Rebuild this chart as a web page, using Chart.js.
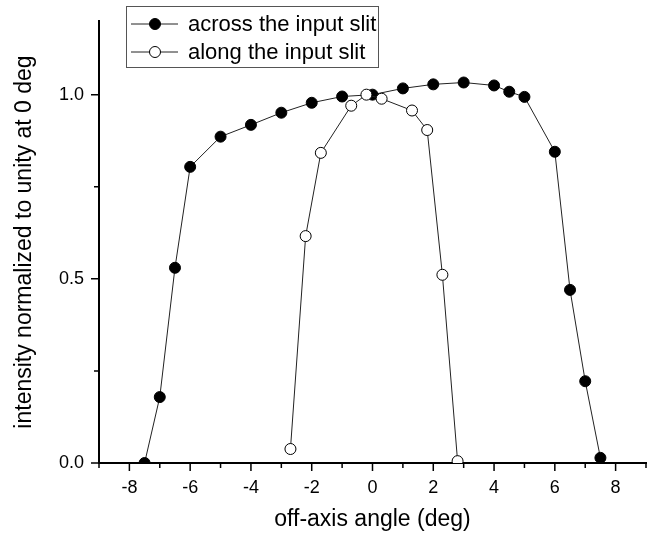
<!DOCTYPE html>
<html>
<head>
<meta charset="utf-8">
<script src="https://cdn.jsdelivr.net/npm/chart.js@4.4.1/dist/chart.umd.min.js"></script>
<style>
  html, body { margin: 0; padding: 0; background: #fff; }
  canvas { display: block; }
</style>
</head>
<body>
<canvas id="c" width="659" height="536"></canvas>
<script>
// Off-axis response, normalized to 1 at 0 deg
const acrossAngle = [-7.5, -7, -6.5, -6, -5, -4, -3, -2, -1, 0, 1, 2, 3, 4, 4.5, 5, 6, 6.5, 7, 7.5];
const acrossIntensity = [0.0, 0.179, 0.53, 0.804, 0.886, 0.918, 0.951, 0.978, 0.995, 1.0, 1.017, 1.028, 1.033, 1.025, 1.008, 0.994, 0.845, 0.47, 0.222, 0.014];
const alongAngle = [-2.7, -2.2, -1.7, -0.7, -0.2, 0.3, 1.3, 1.8, 2.3, 2.8];
const alongIntensity = [0.038, 0.616, 0.842, 0.970, 1.0, 0.989, 0.957, 0.904, 0.511, 0.005];

const xTickValues = [-8, -6, -4, -2, 0, 2, 4, 6, 8];
const yTickValues = [0.0, 0.5, 1.0];
const seriesNames = ['across the input slit', 'along the input slit'];
const xTitle = 'off-axis angle (deg)';
const yTitle = 'intensity normalized to unity at 0 deg';

const FONT = '"Liberation Sans", Arial, sans-serif';

function toPoints(xs, ys) {
  return xs.map((v, i) => ({ x: v, y: ys[i] }));
}

// Outward major/minor tick marks on the left and bottom axes, plus the boxed legend
const axisDecor = {
  id: 'axisDecor',
  afterDraw(chart) {
    const { ctx, chartArea: a } = chart;
    const xs = chart.scales.x, ys = chart.scales.y;
    ctx.save();
    ctx.strokeStyle = '#000';
    ctx.lineWidth = 1.5;
    ctx.beginPath();
    for (let v = xs.min; v <= xs.max; v += 1) {
      const px = xs.getPixelForValue(v);
      const len = (Math.abs(v) % 2 === 0) ? 8 : 5;
      ctx.moveTo(px, a.bottom);
      ctx.lineTo(px, a.bottom + len);
    }
    for (let v = 0; v <= ys.max + 1e-9; v += 0.25) {
      const py = ys.getPixelForValue(v);
      const major = Math.abs(v * 2 - Math.round(v * 2)) < 1e-9;
      ctx.moveTo(a.left, py);
      ctx.lineTo(a.left - (major ? 8 : 5), py);
    }
    ctx.stroke();

    // legend
    const bx = 126.5, by = 6.5, bw = 252, bh = 61;
    ctx.lineWidth = 1;
    ctx.strokeStyle = '#555';
    ctx.strokeRect(bx, by, bw, bh);
    const rows = [24, 52];
    chart.data.datasets.forEach((ds, i) => {
      const ry = rows[i];
      ctx.strokeStyle = ds.borderColor;
      ctx.lineWidth = 1;
      ctx.beginPath();
      ctx.moveTo(131, ry);
      ctx.lineTo(178, ry);
      ctx.stroke();
      ctx.beginPath();
      ctx.arc(155, ry, ds.pointRadius, 0, Math.PI * 2);
      ctx.fillStyle = ds.pointBackgroundColor;
      ctx.fill();
      ctx.strokeStyle = ds.pointBorderColor;
      ctx.lineWidth = ds.pointBorderWidth;
      ctx.stroke();
      ctx.fillStyle = '#000';
      ctx.font = '22px ' + FONT;
      ctx.textBaseline = 'middle';
      ctx.textAlign = 'left';
      ctx.fillText(seriesNames[i], 188, ry + 1);
    });
    ctx.restore();
  }
};

new Chart(document.getElementById('c'), {
  type: 'scatter',
  data: {
    datasets: [
      {
        label: seriesNames[0],
        data: toPoints(acrossAngle, acrossIntensity),
        showLine: true,
        borderColor: '#222',
        borderWidth: 1,
        pointRadius: 5.5,
        pointBackgroundColor: '#000',
        pointBorderColor: '#000',
        pointBorderWidth: 1,
        clip: 0,
        order: 2
      },
      {
        label: seriesNames[1],
        data: toPoints(alongAngle, alongIntensity),
        showLine: true,
        borderColor: '#222',
        borderWidth: 1,
        pointRadius: 5.5,
        pointBackgroundColor: '#fff',
        pointBorderColor: '#000',
        pointBorderWidth: 1,
        clip: 0,
        order: 1
      }
    ]
  },
  options: {
    responsive: false,
    devicePixelRatio: 1,
    animation: false,
    events: [],
    layout: { padding: { top: 21, right: 13, left: 0, bottom: 0 } },
    plugins: { legend: { display: false }, tooltip: { enabled: false } },
    scales: {
      x: {
        type: 'linear',
        min: -9,
        max: 9,
        afterBuildTicks: s => { s.ticks = xTickValues.map(v => ({ value: v })); },
        afterFit: s => { s.height = 73; },
        grid: { display: false, drawTicks: true, tickLength: 8 },
        border: { display: true, color: '#000', width: 2 },
        ticks: {
          color: '#000',
          padding: 6,
          maxRotation: 0,
          font: { family: FONT, size: 18 },
          callback: v => String(v)
        },
        title: {
          display: true,
          text: xTitle,
          color: '#000',
          font: { family: FONT, size: 23 },
          padding: { top: 0, bottom: 3 }
        }
      },
      y: {
        type: 'linear',
        min: 0,
        max: 1.2,
        afterBuildTicks: s => { s.ticks = yTickValues.map(v => ({ value: v })); },
        afterFit: s => { s.width = 99; },
        grid: { display: false, drawTicks: true, tickLength: 8 },
        border: { display: true, color: '#000', width: 2 },
        ticks: {
          color: '#000',
          padding: 7,
          font: { family: FONT, size: 18 },
          callback: v => Number(v).toFixed(1)
        },
        title: {
          display: true,
          text: yTitle,
          color: '#000',
          font: { family: FONT, size: 23 },
          padding: { top: 11, bottom: 0 }
        }
      }
    }
  },
  plugins: [axisDecor]
});
</script>
</body>
</html>
